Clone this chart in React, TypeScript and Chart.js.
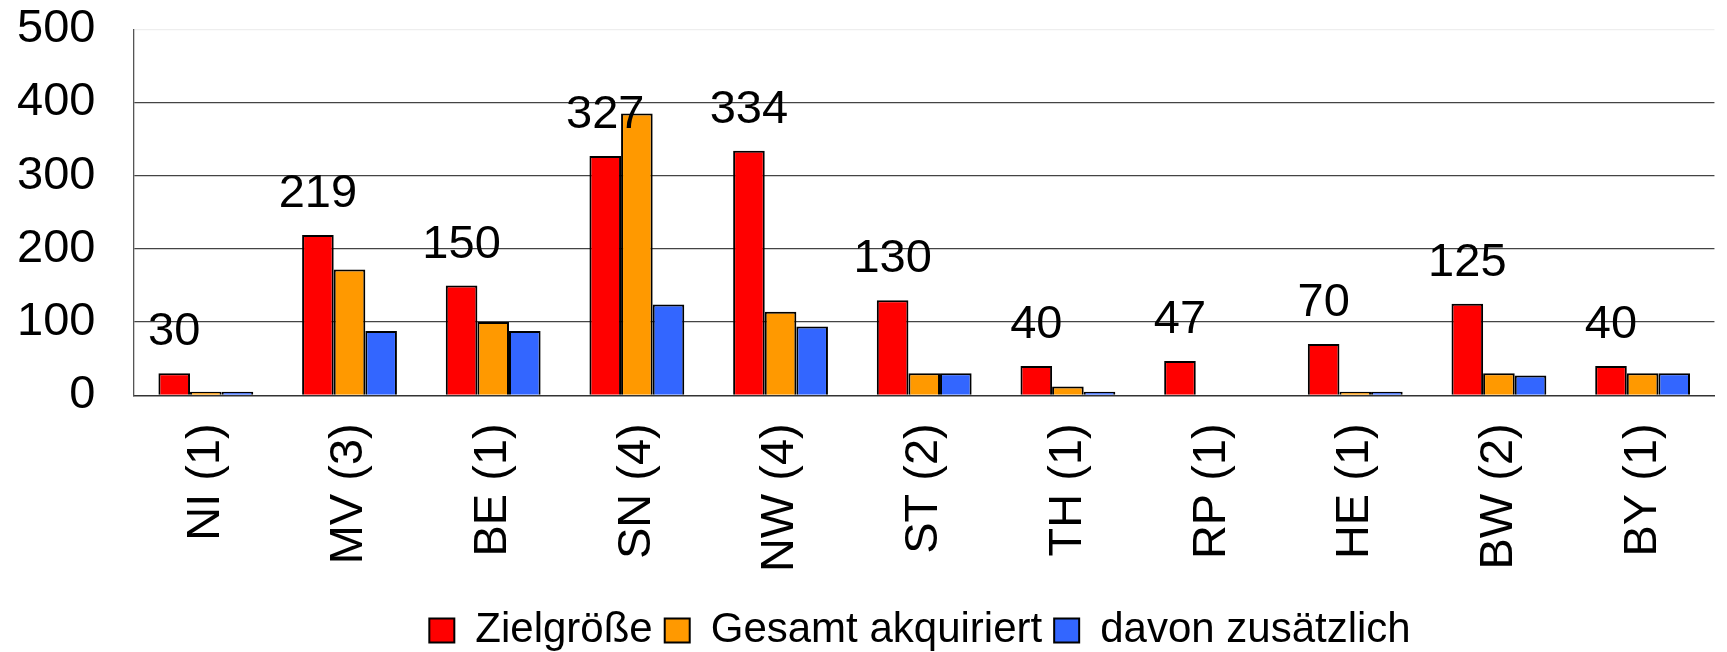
import React, { useEffect, useRef } from "react";
import { Chart, registerables } from "chart.js";

Chart.register(...registerables);

const categories = ["NI (1)", "MV (3)", "BE (1)", "SN (4)", "NW (4)", "ST (2)", "TH (1)", "RP (1)", "HE (1)", "BW (2)", "BY (1)"];
const zielgroesse = [30, 219, 150, 327, 334, 130, 40, 47, 70, 125, 40];
const gesamtAkquiriert = [5, 172, 100, 385, 114, 30, 12, null, 5, 30, 30];
const davonZusaetzlich = [5, 88, 88, 124, 94, 30, 5, null, 5, 27, 30];
const seriesNames = ["Zielgröße", "Gesamt akquiriert", "davon zusätzlich"];
const yTicks = [0, 100, 200, 300, 400, 500];

const FONT = "'Liberation Sans', Arial, Helvetica, sans-serif";

const labelPlugin = {
  id: "redLabels",
  afterDatasetsDraw(chart: any) {
    const ctx = chart.ctx;
    const meta = chart.getDatasetMeta(0);
    ctx.save();
    ctx.font = `47px ${FONT}`;
    ctx.fillStyle = "#000";
    ctx.textAlign = "center";
    ctx.textBaseline = "alphabetic";
    meta.data.forEach((el: any, i: number) => {
      const v = zielgroesse[i];
      if (v == null) return;
      ctx.fillText(String(v), el.x, el.y - 28);
    });
    ctx.restore();
  },
};

export default function App() {
  const ref = useRef<HTMLCanvasElement | null>(null);
  useEffect(() => {
    document.body.style.margin = "0";
    document.body.style.overflow = "hidden";
    const canvas = ref.current!;
    const chart = new Chart(canvas, {
      type: "bar",
      data: {
        labels: categories,
        datasets: [
          { label: seriesNames[0], data: zielgroesse, backgroundColor: "#FF0000", borderColor: "#000", borderWidth: 2 },
          { label: seriesNames[1], data: gesamtAkquiriert, backgroundColor: "#FF9900", borderColor: "#000", borderWidth: 2 },
          { label: seriesNames[2], data: davonZusaetzlich, backgroundColor: "#3366FF", borderColor: "#000", borderWidth: 2 },
        ],
      },
      options: {
        responsive: false,
        animation: false,
        devicePixelRatio: 1,
        layout: { padding: { left: 104.4, right: -8.6, top: 29.3, bottom: 0 } },
        datasets: { bar: { categoryPercentage: 0.66, barPercentage: 1 } },
        plugins: {
          tooltip: { enabled: false },
          legend: {
            position: "bottom",
            maxHeight: 54.6,
            labels: {
              font: { family: FONT, size: 42 },
              color: "#000",
              boxWidth: 25,
              boxHeight: 24,
              padding: 12,
            },
          },
        },
        scales: {
          x: {
            grid: { display: false, drawTicks: false },
            border: { display: true, color: "#333", width: 1.5 },
            ticks: {
              font: { family: FONT, size: 47 },
              color: "#000",
              minRotation: 90,
              maxRotation: 90,
              autoSkip: false,
              padding: 28,
            },
            afterFit: (s: any) => { s.height = 202.1; },
          },
          y: {
            min: 0,
            max: 500,
            afterBuildTicks: (s: any) => { s.ticks = yTicks.map((v) => ({ value: v })); },
            grid: {
              drawTicks: false,
              color: (c: any) => (c.tick && c.tick.value === 500 ? "#eeeeee" : c.tick && c.tick.value === 0 ? "rgba(0,0,0,0)" : "#444444"),
              lineWidth: 1.3,
            },
            border: { display: true, color: "#555", width: 1.3 },
            ticks: {
              font: { family: FONT, size: 47 },
              color: "#000",
              mirror: true,
              crossAlign: "far",
              padding: -117,
              autoSkip: false,
              callback: (v: any) => String(v),
            },
            afterFit: (s: any) => { s.width = 29.6; },
          },
        },
      },
      plugins: [labelPlugin],
    });
    return () => chart.destroy();
  }, []);
  return (
    <div style={{ position: "absolute", left: 0, top: 0, width: 1727, height: 652 }}>
      <canvas ref={ref} width={1727} height={652} style={{ width: 1727, height: 652, display: "block" }} />
    </div>
  );
}
